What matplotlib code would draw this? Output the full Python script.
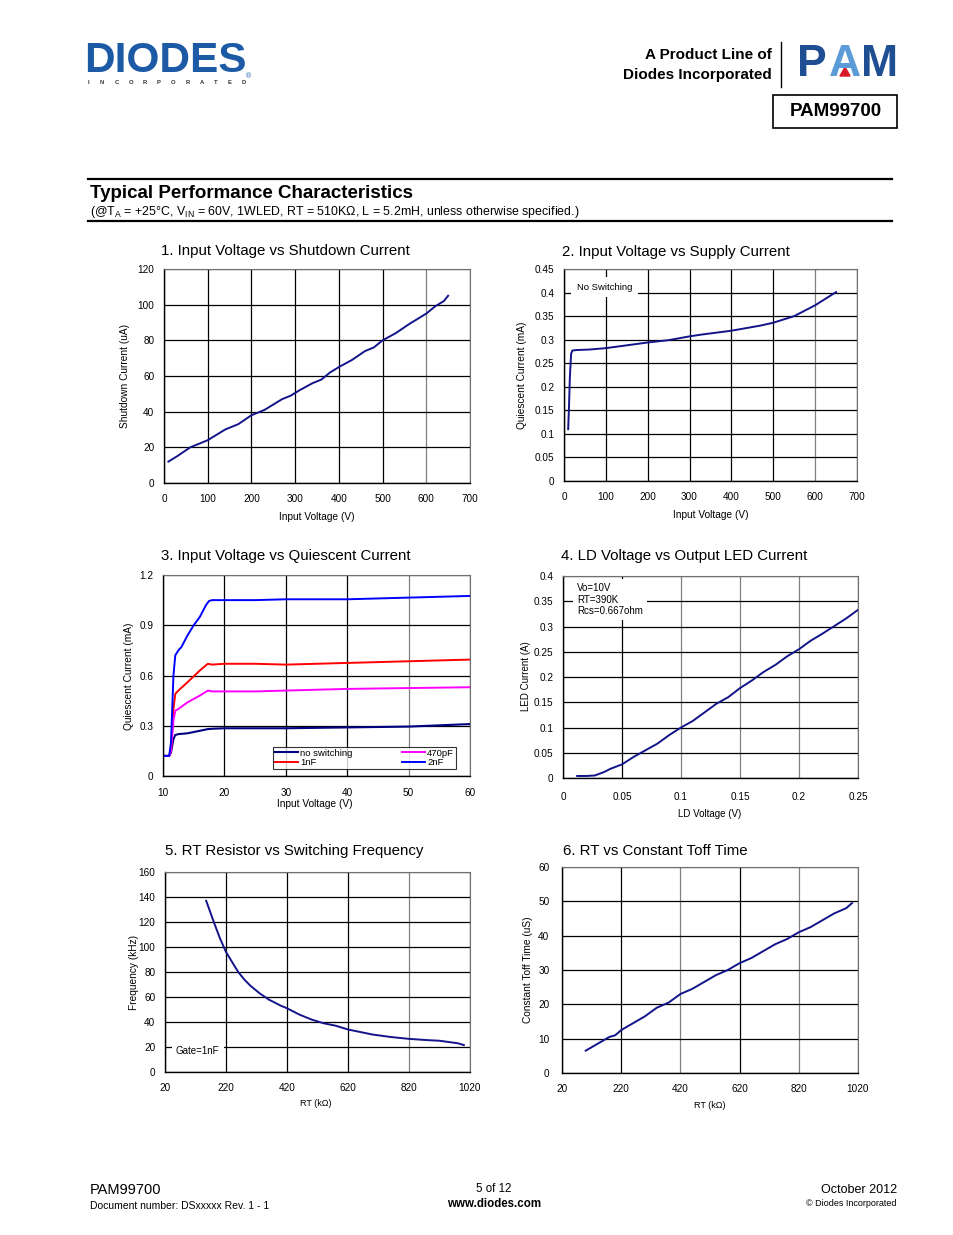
import matplotlib
matplotlib.use("Agg")
import matplotlib.pyplot as plt
from matplotlib.lines import Line2D
from matplotlib.patches import Rectangle, Polygon

plt.rcParams['font.family'] = ['Liberation Sans', 'DejaVu Sans']
plt.rcParams['mathtext.fontset'] = 'custom'
plt.rcParams['mathtext.rm'] = 'Liberation Sans'

# ---- data ----
# 1. input voltage vs shutdown current
vin1 = [10, 30, 60, 100, 140, 170, 200, 230, 270, 290, 310, 340, 360, 380,
        400, 430, 460, 480, 500, 530, 560, 580, 600, 620, 640, 650]
ishdn = [12, 15, 20, 24, 30, 33, 38, 41, 47, 49, 52, 56, 58, 62,
         65, 69, 74, 76, 80, 84, 89, 92, 95, 99, 102, 105]

# 2. input voltage vs supply current
vin2 = [10, 12, 14, 17, 20, 30, 60, 100, 150, 200, 250, 300, 330, 400,
        470, 500, 550, 600, 650]
isup = [0.11, 0.16, 0.22, 0.27, 0.277, 0.278, 0.279, 0.282, 0.288, 0.294,
        0.299, 0.307, 0.311, 0.319, 0.33, 0.336, 0.35, 0.373, 0.401]

# 3. input voltage vs quiescent current (per gate load)
vin3 = [10, 11, 11.3, 11.7, 12, 12.5, 14, 16, 17.3, 18, 20, 25, 30, 40, 50, 60]
iq_nosw = [0.12, 0.12, 0.14, 0.22, 0.245, 0.25, 0.255, 0.27, 0.28, 0.282,
           0.285, 0.285, 0.285, 0.29, 0.295, 0.31]
iq_1nf = [0.12, 0.12, 0.15, 0.40, 0.49, 0.51, 0.56, 0.63, 0.67, 0.665,
          0.67, 0.67, 0.665, 0.675, 0.685, 0.695]
iq_470p = [0.12, 0.12, 0.15, 0.33, 0.39, 0.40, 0.44, 0.48, 0.51, 0.505,
           0.505, 0.505, 0.51, 0.52, 0.525, 0.53]
vin3b = [10, 11, 11.3, 11.7, 12, 12.5, 13, 14, 15, 16, 17, 17.5, 18, 20,
         25, 30, 40, 50, 60]
iq_2nf = [0.12, 0.12, 0.2, 0.6, 0.72, 0.75, 0.77, 0.84, 0.9, 0.95, 1.02,
          1.045, 1.05, 1.05, 1.05, 1.055, 1.055, 1.065, 1.075]

# 4. LD voltage vs LED current
vld = [0.012, 0.02, 0.027, 0.035, 0.04, 0.05, 0.06, 0.07, 0.08, 0.09, 0.1,
       0.11, 0.12, 0.13, 0.14, 0.15, 0.16, 0.17, 0.18, 0.19, 0.2, 0.21,
       0.22, 0.23, 0.24, 0.25]
iled = [0.004, 0.004, 0.005, 0.012, 0.018, 0.027, 0.042, 0.055, 0.068,
        0.085, 0.1, 0.113, 0.13, 0.147, 0.16, 0.178, 0.193, 0.21, 0.224,
        0.241, 0.255, 0.272, 0.286, 0.301, 0.316, 0.333]

# 5. RT vs switching frequency
rt5 = [155, 180, 200, 220, 240, 260, 280, 300, 330, 360, 400, 420, 460, 500,
       540, 580, 620, 660, 700, 760, 820, 880, 920, 980, 1000]
fsw = [137, 120, 107, 96, 88, 80, 74, 69, 63, 58, 53, 51, 46, 42,
       39, 37, 34, 32, 30, 28, 26.5, 25.5, 25, 23, 21.5]

# 6. RT vs constant toff time
rt6 = [100, 140, 180, 200, 220, 260, 300, 340, 380, 420, 460, 500, 540, 580,
       620, 660, 700, 740, 780, 820, 860, 900, 940, 980, 1000]
toff = [6.5, 8.5, 10.5, 11, 12.5, 14.5, 16.5, 19, 20.5, 23, 24.5, 26.5, 28.5,
        30, 32, 33.5, 35.5, 37.5, 39, 41, 42.5, 44.5, 46.5, 48, 49.5]

ticks_v = [0, 100, 200, 300, 400, 500, 600, 700]
ticks_rt = [20, 220, 420, 620, 820, 1020]

W, H = 954, 1235
fig = plt.figure(figsize=(W / 100, H / 100), dpi=100)
fig.patch.set_facecolor('white')


def fx(x):
    return x / W


def fy(y):
    return 1 - y / H


def add_ax(l, t, r, b):
    return fig.add_axes([l / W, 1 - b / H, (r - l) / W, (b - t) / H])


def txt(x, y, s, **kw):
    kw.setdefault('va', 'center')
    fig.text(fx(x), fy(y), s, **kw)


def hline(x0, x1, y, lw=1.0, color='black'):
    fig.add_artist(Line2D([fx(x0), fx(x1)], [fy(y), fy(y)], lw=lw, color=color))


def setup(ax, xticks, yticks, xlabels=None, ylabels=None, grey=(), xpad=8, ypad=7):
    ax.set_xlim(xticks[0], xticks[-1])
    ax.set_ylim(yticks[0], yticks[-1])
    ax.set_xticks(xticks)
    ax.set_yticks(yticks)
    if xlabels:
        ax.set_xticklabels(xlabels)
    if ylabels:
        ax.set_yticklabels(ylabels)
    ax.tick_params(length=0, labelsize=7.2)
    ax.tick_params(axis='x', pad=xpad)
    ax.tick_params(axis='y', pad=ypad)
    ax.grid(True, color='black', lw=0.9)
    for i, gl in enumerate(ax.xaxis.get_gridlines()):
        if i in grey:
            gl.set_color('#808080')
    ax.set_axisbelow(True)
    for s in ['left', 'bottom']:
        ax.spines[s].set_color('black')
        ax.spines[s].set_linewidth(1.0)
    for s in ['top', 'right']:
        ax.spines[s].set_color('#707070')
        ax.spines[s].set_linewidth(0.8)


navy = '#13138a'

# ---------------- header ----------------
txt(84, 61, 'DIODES', fontsize=30.5, fontweight='bold', color='#1c5aa6')
hline(86, 246, 64, lw=1.1, color='white')
for i, ch in enumerate('INCORPORATED'):
    txt(88 + i * 14.2, 82, ch, fontsize=4.2, fontweight='bold',
        color='#333333', ha='center')
txt(249, 77, '®', fontsize=5, color='#1c5aa6', ha='center')

txt(772, 55, 'A Product Line of', fontsize=11, fontweight='bold', ha='right')
txt(772, 75, 'Diodes Incorporated', fontsize=11, fontweight='bold', ha='right')
fig.add_artist(Line2D([fx(781), fx(781)], [fy(42), fy(87)], lw=1.0, color='black'))
txt(797, 64, 'P', fontsize=32, fontweight='bold', color='#1f4f92')
txt(845, 64, 'A', fontsize=32, fontweight='bold', color='#5b9bd8', ha='center')
txt(898, 64, 'M', fontsize=32, fontweight='bold', color='#1f4f92', ha='right')
fig.add_artist(Polygon([[fx(840), fy(76)], [fx(850), fy(76)], [fx(845), fy(67)]],
                       closed=True, color='#d8192a'))

fig.add_artist(Rectangle((fx(773), fy(128)), (897 - 773) / W, (128 - 95) / H,
                         fill=False, lw=1.2, edgecolor='black'))
txt(836, 112, 'PAM99700', fontsize=13.5, fontweight='bold', ha='center')

hline(88, 892, 179, lw=1.6)
txt(90, 193, 'Typical Performance Characteristics', fontsize=13.5, fontweight='bold')
txt(90, 212, r'(@T$\mathregular{_A}$ = +25°C, V$\mathregular{_{IN}}$ = 60V, 1WLED, '
    r'RT = 510KΩ, L = 5.2mH, unless otherwise specified.)', fontsize=8.9)
hline(88, 892, 221, lw=1.6)

# ---------------- chart 1 ----------------
ax1 = add_ax(164, 269, 470, 483)
ax1.plot(vin1, ishdn, color=navy, lw=1.4)
setup(ax1, ticks_v, [0, 20, 40, 60, 80, 100, 120], grey=(6,))
txt(161, 251, '1. Input Voltage vs Shutdown Current', fontsize=10.8)
txt(317, 517, 'Input Voltage (V)', fontsize=7.3, ha='center')
txt(125, 376, 'Shutdown Current (uA)', fontsize=7.3, rotation=90, ha='center')

# ---------------- chart 2 ----------------
ax2 = add_ax(564, 269, 857, 481)
ax2.plot(vin2, isup, color=navy, lw=1.4)
setup(ax2, ticks_v, [0, 0.05, 0.1, 0.15, 0.2, 0.25, 0.3, 0.35, 0.4, 0.45],
      ylabels=['0', '0.05', '0.1', '0.15', '0.2', '0.25', '0.3', '0.35', '0.4', '0.45'],
      grey=(6,))
ax2.text(0.044, 0.915, 'No Switching', transform=ax2.transAxes, fontsize=6.8,
         va='center', ha='left', zorder=3,
         bbox=dict(facecolor='white', edgecolor='none', pad=4))
txt(562, 252, '2. Input Voltage vs Supply Current', fontsize=10.8)
txt(711, 515, 'Input Voltage (V)', fontsize=7.3, ha='center')
txt(522, 375, 'Quiescent Current (mA)', fontsize=7.3, rotation=90, ha='center')

# ---------------- chart 3 ----------------
ax3 = add_ax(163, 575, 470, 776)
ax3.plot(vin3, iq_nosw, color='#000080', lw=1.5, label='no switching')
ax3.plot(vin3, iq_1nf, color='#ff0000', lw=1.4, label='1nF')
ax3.plot(vin3, iq_470p, color='#ff00ff', lw=1.4, label='470pF')
ax3.plot(vin3b, iq_2nf, color='#0000ff', lw=1.4, label='2nF')
setup(ax3, [10, 20, 30, 40, 50, 60], [0, 0.3, 0.6, 0.9, 1.2],
      ylabels=['0', '0.3', '0.6', '0.9', '1.2'], grey=(4,), xpad=9)
leg = ax3.legend(ncol=2, loc='lower left', bbox_to_anchor=(0.358, 0.035, 0.596, 0.12),
                 mode='expand', fontsize=6.8, frameon=True, fancybox=False,
                 borderpad=0.2, labelspacing=0.05, handlelength=2.5,
                 handletextpad=0.2, columnspacing=0.8, borderaxespad=0)
leg.get_frame().set_edgecolor('black')
leg.get_frame().set_linewidth(0.8)
txt(161, 556, '3. Input Voltage vs Quiescent Current', fontsize=10.8)
txt(315, 804, 'Input Voltage (V)', fontsize=7.3, ha='center')
txt(129, 676, 'Quiescent Current (mA)', fontsize=7.3, rotation=90, ha='center')

# ---------------- chart 4 ----------------
ax4 = add_ax(563, 576, 858, 778)
ax4.plot(vld, iled, color=navy, lw=1.4)
setup(ax4, [0, 0.05, 0.1, 0.15, 0.2, 0.25],
      [0, 0.05, 0.1, 0.15, 0.2, 0.25, 0.3, 0.35, 0.4],
      xlabels=['0', '0.05', '0.1', '0.15', '0.2', '0.25'],
      ylabels=['0', '0.05', '0.1', '0.15', '0.2', '0.25', '0.3', '0.35', '0.4'],
      grey=(2, 3, 4), xpad=10)
ax4.text(0.047, 0.965, 'Vo=10V\nRT=390K\nRcs=0.667ohm', transform=ax4.transAxes,
         fontsize=7, va='top', ha='left', linespacing=1.2, zorder=3,
         bbox=dict(facecolor='white', edgecolor='none', pad=3))
txt(561, 556, '4. LD Voltage vs Output LED Current', fontsize=10.8)
txt(710, 814, 'LD Voltage (V)', fontsize=7, ha='center')
txt(526, 676, 'LED Current (A)', fontsize=7, rotation=90, ha='center')

# ---------------- chart 5 ----------------
ax5 = add_ax(165, 872, 470, 1072)
ax5.plot(rt5, fsw, color=navy, lw=1.4)
setup(ax5, ticks_rt, [0, 20, 40, 60, 80, 100, 120, 140, 160], grey=(4,))
ax5.text(0.036, 0.105, 'Gate=1nF', transform=ax5.transAxes, fontsize=7,
         va='center', ha='left', zorder=3,
         bbox=dict(facecolor='white', edgecolor='none', pad=3))
txt(165, 851, '5. RT Resistor vs Switching Frequency', fontsize=10.8)
txt(316, 1104, 'RT (kΩ)', fontsize=6.5, ha='center')
txt(134, 972, 'Frequency (kHz)', fontsize=7.3, rotation=90, ha='center')

# ---------------- chart 6 ----------------
ax6 = add_ax(562, 867, 858, 1073)
ax6.plot(rt6, toff, color=navy, lw=1.4)
setup(ax6, ticks_rt, [0, 10, 20, 30, 40, 50, 60], grey=(2, 4), ypad=9)
txt(563, 851, '6. RT vs Constant Toff Time', fontsize=10.8)
txt(710, 1106, 'RT (kΩ)', fontsize=6.5, ha='center')
txt(528, 970, 'Constant Toff Time (uS)', fontsize=7.3, rotation=90, ha='center')

# ---------------- footer ----------------
txt(90, 1190, 'PAM99700', fontsize=10.5)
txt(90, 1206, 'Document number: DSxxxxx Rev. 1 - 1', fontsize=7.5)
txt(494, 1189, '5 of 12', fontsize=8.3, ha='center')
txt(494, 1204, 'www.diodes.com', fontsize=8.3, fontweight='bold', ha='center')
txt(897, 1190, 'October 2012', fontsize=9, ha='right')
txt(897, 1204, '© Diodes Incorporated', fontsize=6.5, ha='right')

fig.savefig('out.png', dpi=100, facecolor='white')
